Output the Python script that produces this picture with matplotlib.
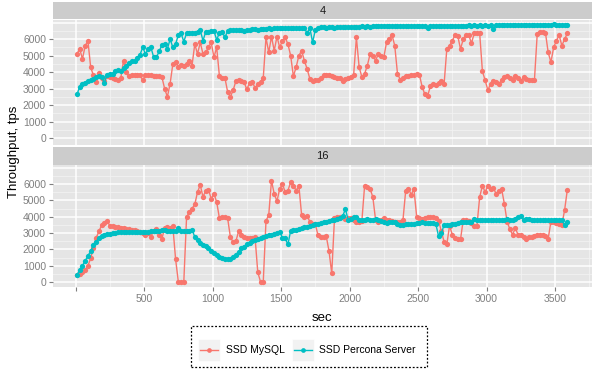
import numpy as np
import matplotlib
matplotlib.use("Agg")
import matplotlib.pyplot as plt
from matplotlib.patches import Rectangle
from matplotlib.lines import Line2D

plt.rcParams['font.family'] = ['Liberation Sans', 'DejaVu Sans']

# time axis, one reading every 20 sec
sec = np.arange(10, 3600, 20)

# facet "4"
mysql_4 = [
    5100, 5400, 4800, 5600, 5900, 4300, 3800, 3400, 3950, 3650,
    3450, 3750, 3700, 3650, 3600, 3500, 3650, 4700, 4000, 3750,
    3800, 3800, 3850, 3850, 3500, 3850, 3800, 3800, 3750, 3750,
    3750, 3700, 3000, 2500, 3300, 4500, 4600, 4300, 4450, 4350,
    4500, 4700, 4400, 5700, 5100, 5800, 5100, 5200, 5500, 5800,
    4900, 5500, 3750, 3650, 3650, 2800, 2500, 2900, 3450, 3550,
    3450, 3400, 2950, 3350, 3400, 3050, 3250, 3400, 3650, 6100,
    5200, 6150, 5300, 6150, 5500, 5900, 6100, 5700, 5000, 3750,
    4300, 5000, 5300, 4700, 4200, 3600, 3450, 3500, 3550, 3650,
    3800, 3850, 3800, 3750, 3700, 3650, 3650, 3450, 3600, 3650,
    3700, 3850, 6100, 4300, 3700, 3900, 4400, 5100, 5000, 4700,
    5100, 5000, 4900, 5800, 6000, 6250, 5600, 3900, 3550, 3650,
    3750, 3750, 3800, 3850, 3900, 3850, 3100, 2650, 2550, 3150,
    3300, 3200, 3350, 3450, 3250, 5400, 5600, 5900, 6250, 6200,
    5400, 6000, 6250, 6250, 5750, 6350, 6350, 6350, 4050, 3500,
    2900, 3300, 3450, 3400, 3250, 3550, 3700, 3750, 3650, 3550,
    3750, 3650, 3450, 3700, 3600, 3550, 3500, 3550, 6300, 6450,
    6450, 6400, 5200, 4600, 5500, 5900, 6250, 5600, 6000, 6350,
]
percona_4 = [
    2650, 3100, 3250, 3350, 3450, 3500, 3600, 3680, 3780, 3700,
    3350, 3850, 3880, 3900, 4060, 4150, 4050, 4270, 4350, 4550,
    4650, 4700, 4850, 5050, 5500, 5100, 5400, 5500, 4900, 4900,
    5250, 5650, 5700, 5400, 6000, 5500, 5700, 6250, 6350, 5850,
    6350, 6350, 6400, 6400, 6450, 6550, 5900, 6450, 6450, 6500,
    6500, 5950, 6400, 6450, 6100, 6500, 6550, 6550, 6550, 6550,
    6550, 6520, 6550, 6580, 6600, 6600, 6580, 6620, 6600, 6630,
    6650, 6640, 6660, 6650, 6670, 6680, 6660, 6680, 6690, 6680,
    6690, 6700, 6680, 6690, 6350, 6700, 5800, 6550, 6700, 6710,
    6720, 6700, 6720, 6710, 6650, 6720, 6730, 6720, 6740, 6730,
    6760, 6750, 6760, 6750, 6770, 6760, 6770, 6760, 6770, 6780,
    6770, 6780, 6770, 6780, 6790, 6770, 6780, 6790, 6780, 6790,
    6800, 6790, 6800, 6790, 6800, 6790, 6800, 6780, 6650, 6800,
    6800, 6810, 6800, 6810, 6800, 6810, 6820, 6810, 6820, 6810,
    6820, 6810, 6820, 6830, 6820, 6830, 6820, 6830, 6820, 6830,
    6820, 6830, 6640, 6830, 6840, 6830, 6840, 6830, 6840, 6830,
    6840, 6830, 6840, 6850, 6840, 6850, 6840, 6850, 6840, 6850,
    6850, 6860, 6850, 6860, 6900, 6860, 6870, 6860, 6850, 6830,
]

# facet "16"
mysql_16 = [
    420, 480, 600, 730, 1000, 1450, 2100, 2700, 3100, 3480,
    3630, 3730, 3450, 3400, 3380, 3350, 3320, 3280, 3250, 3220,
    3200, 3180, 3150, 3080, 3000, 2900, 2980, 2780, 3150, 3250,
    2900, 2650, 3300, 3390, 3300, 3400, 1400, 20, 20, 20,
    3950, 4300, 4500, 4750, 5500, 5940, 5200, 5600, 5650, 5100,
    5400, 4900, 3900, 4000, 4000, 3900, 2750, 2450, 2500, 3100,
    2880, 2770, 2670, 2700, 2680, 2750, 600, 20, 20, 3750,
    4100, 6200, 5400, 4950, 5700, 6000, 5500, 5600, 6100, 5900,
    5600, 5900, 4100, 4000, 4050, 3700, 3550, 3550, 2850, 2770,
    2770, 2800, 1900, 530, 3900, 4000, 4000, 3950, 3850, 3900,
    3900, 3800, 3700, 3690, 3750, 5900, 5800, 5700, 5200, 3800,
    3650, 3800, 3900, 3800, 3800, 3750, 3700, 3700, 3690, 3800,
    5600, 5700, 5350, 5700, 4000, 3900, 3880, 3900, 3950, 4000,
    4000, 3900, 3750, 3100, 2470, 2300, 3450, 2900, 2700, 2650,
    2610, 3800, 3800, 3750, 3600, 3430, 3450, 5200, 5900, 5500,
    5900, 5700, 5750, 5400, 5600, 5700, 4800, 3700, 3250, 2900,
    3300, 2900, 2900, 2750, 2650, 2770, 2770, 2800, 2880, 2880,
    2850, 2800, 2650, 3690, 3650, 3600, 3550, 3500, 4400, 5650,
]
percona_16 = [
    420, 750, 1000, 1300, 1600, 1900, 2260, 2480, 2690, 2810,
    2870, 2920, 2960, 2990, 3020, 3050, 3080, 3090, 3090, 3080,
    3080, 3070, 3070, 3060, 3060, 3070, 3080, 3100, 3110, 3120,
    3140, 3170, 3160, 3130, 3100, 3120, 3150, 3280, 3130, 3120,
    3140, 3150, 3200, 2770, 2560, 2420, 2290, 2180, 2060, 1930,
    1800, 1670, 1550, 1480, 1430, 1400, 1420, 1540, 1680, 1850,
    2060, 2170, 2300, 2400, 2500, 2580, 2640, 2680, 2730, 2800,
    2860, 2910, 2950, 3020, 3050, 2720, 2680, 2300, 3140, 3180,
    3200, 3260, 3300, 3350, 3390, 3430, 3480, 3530, 3580, 3620,
    3650, 3690, 3730, 3770, 3820, 3860, 3900, 4050, 4450, 3800,
    3850, 3950, 4000, 3800, 3770, 3820, 3840, 3820, 3820, 3830,
    3820, 3720, 3650, 3630, 3680, 3690, 3690, 3580, 3500, 3520,
    3550, 3550, 3560, 3580, 3600, 3620, 3650, 3620, 3600, 3620,
    3610, 3550, 2800, 2980, 3490, 3490, 3500, 3530, 3560, 3630,
    3650, 3680, 3690, 3690, 3700, 3850, 3800, 3800, 3790, 3800,
    3800, 3800, 3790, 3800, 3790, 3810, 3800, 3830, 3820, 3800,
    3850, 3980, 4050, 3800, 3830, 3880, 3800, 3800, 3780, 3800,
    3800, 3790, 3780, 3800, 3790, 3780, 3800, 3800, 3500, 3690,
]

facets = ["4", "16"]
series_names = ["SSD MySQL", "SSD Percona Server"]
colors = ["#F8766D", "#00BFC4"]
x_ticks = [0, 500, 1000, 1500, 2000, 2500, 3000, 3500]
x_labels = ["", "500", "1000", "1500", "2000", "2500", "3000", "3500"]
y_ticks = [0, 1000, 2000, 3000, 4000, 5000, 6000]


def box(x0, y0, x1, y1):
    # pixel box -> figure fraction
    return [x0 / 600, 1 - y1 / 370, (x1 - x0) / 600, (y1 - y0) / 370]


fig = plt.figure(figsize=(6, 3.7), dpi=100)

panels = [
    (box(53, 20, 592, 145), box(53, 2, 592, 19), (-420, 7160), mysql_4, percona_4),
    (box(53, 165, 592, 287), box(53, 147, 592, 165), (-300, 7160), mysql_16, percona_16),
]

for i, (pbox, sbox, ylim, m, p) in enumerate(panels):
    ax = fig.add_axes(pbox)
    ax.set_facecolor("#E5E5E5")
    for s in ax.spines.values():
        s.set_visible(False)
    ax.set_xlim(-165, 3770)
    ax.set_ylim(*ylim)
    # grid
    for v in np.arange(250, 3800, 500):
        ax.axvline(v, color="#F2F2F2", lw=0.6, zorder=0)
    for v in np.arange(500, 7200, 1000):
        ax.axhline(v, color="#F2F2F2", lw=0.6, zorder=0)
    for v in x_ticks:
        ax.axvline(v, color="white", lw=1.1, zorder=0.5)
    for v in y_ticks + [7000]:
        ax.axhline(v, color="white", lw=1.1, zorder=0.5)

    ax.plot(sec, m, color=colors[0], lw=1.0, marker="o", ms=3.8, mew=0, zorder=2)
    ax.plot(sec, p, color=colors[1], lw=1.0, marker="o", ms=3.8, mew=0, zorder=3)

    ax.set_yticks(y_ticks)
    ax.set_yticklabels([str(v) for v in y_ticks])
    ax.tick_params(axis="y", length=3, color="#7F7F7F", labelcolor="#7F7F7F",
                   labelsize=7.5, pad=2)
    ax.set_xticks(x_ticks)
    if i == 1:
        ax.set_xticklabels(x_labels)
        ax.tick_params(axis="x", length=3, color="#7F7F7F", labelcolor="#7F7F7F",
                       labelsize=7.5, pad=2)
    else:
        ax.tick_params(axis="x", length=0, labelbottom=False)

    sax = fig.add_axes(sbox)
    sax.set_facecolor("#CCCCCC")
    sax.set_xticks([])
    sax.set_yticks([])
    for s in sax.spines.values():
        s.set_visible(False)
    sax.text(0.5, 0.5, facets[i], ha="center", va="center", fontsize=8,
             color="#1A1A1A", transform=sax.transAxes)

fig.text(14 / 600, 1 - 152 / 370, "Throughput, tps", rotation=90,
         ha="center", va="center", fontsize=9.5)
fig.text(322 / 600, 1 - 318 / 370, "sec", ha="center", va="center", fontsize=9.5)

# legend drawn in figure coordinates
fig.patches.append(Rectangle((191 / 600, 1 - 367 / 370), 236 / 600, 41 / 370,
                             transform=fig.transFigure, fill=False,
                             edgecolor="black", lw=0.9, linestyle=(0, (1.5, 1.5))))
key_x = [198, 292]
text_x = [226, 319]
for kx, tx, c, name in zip(key_x, text_x, colors, series_names):
    fig.patches.append(Rectangle((kx / 600, 1 - 361 / 370), 22 / 600, 22 / 370,
                                 transform=fig.transFigure, facecolor="#F2F2F2",
                                 edgecolor="white", lw=0.5))
    fig.lines.append(Line2D([(kx + 2) / 600, (kx + 20) / 600], [1 - 350 / 370] * 2,
                            transform=fig.transFigure, color=c, lw=1.0))
    fig.lines.append(Line2D([(kx + 11) / 600], [1 - 350 / 370], transform=fig.transFigure,
                            color=c, marker="o", ms=3.4, mew=0))
    fig.text(tx / 600, 1 - 350 / 370, name, ha="left", va="center", fontsize=7.5)

fig.savefig("out.png", dpi=100)
